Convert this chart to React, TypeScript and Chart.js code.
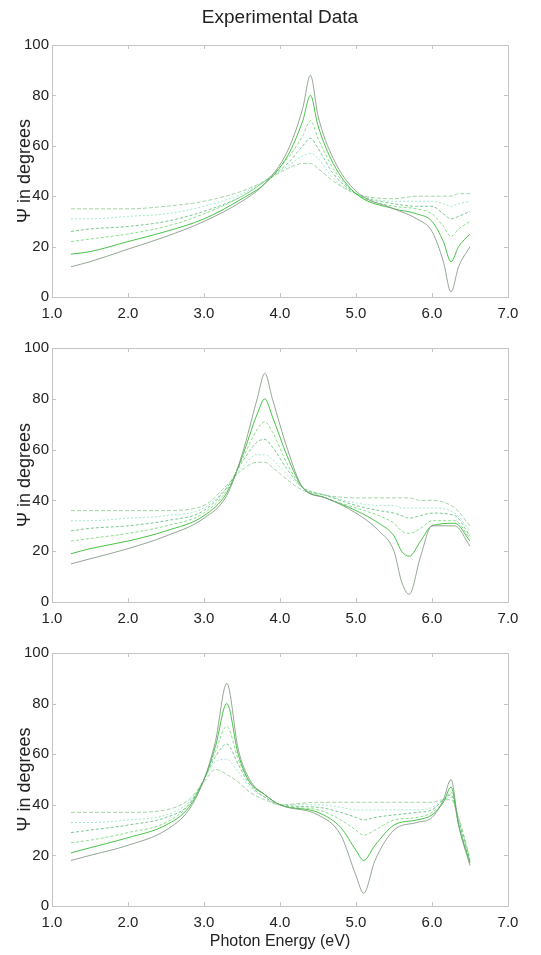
import React, { useEffect, useRef } from 'react';
import { Chart, registerables } from 'chart.js';
Chart.register(...registerables);

// ---------- tick values ----------
const xTickValues = [1, 2, 3, 4, 5, 6, 7];
const yTickValues = [0, 20, 40, 60, 80, 100];

// ---------- Panel 1 (resonance near 4.4 eV) ----------
const p1X = [1.25, 1.5, 2.0, 2.5, 3.0, 3.5, 3.8, 4.1, 4.3, 4.4, 4.5, 4.7, 5.0, 5.5, 5.8, 6.0, 6.15, 6.25, 6.35, 6.5];
const p1C0 = [12, 14, 19, 24, 30, 38, 45, 58, 75, 88, 72, 55, 42, 35, 31, 26, 14, 2, 12, 20];
const p1C1 = [17, 18, 22, 26, 31, 39, 45, 56, 70, 80, 68, 53, 41, 35, 33, 30, 22, 14, 20, 25];
const p1C2 = [22, 23, 25, 28, 33, 40, 46, 55, 64, 70, 63, 51, 41, 36, 35, 33, 28, 24, 27, 30];
const p1C3 = [26, 27, 28, 30, 34, 40, 46, 53, 60, 63, 59, 49, 41, 37, 36, 36, 33, 31, 32, 34];
const p1C4 = [31, 31, 32, 33, 36, 41, 46, 52, 56, 57, 55, 47, 41, 38, 38, 38, 37, 36, 37, 38];
const p1C5 = [35, 35, 35, 36, 38, 42, 46, 51, 53, 53, 51, 46, 41, 39, 40, 40, 40, 40, 41, 41];

// ---------- Panel 2 (resonance near 3.8 eV) ----------
const p2X = [1.25, 1.5, 2.0, 2.5, 3.0, 3.3, 3.5, 3.7, 3.8, 3.9, 4.1, 4.3, 4.6, 5.0, 5.3, 5.5, 5.6, 5.7, 5.85, 6.0, 6.3, 6.5];
const p2C0 = [15, 17, 21, 26, 33, 42, 58, 80, 90, 80, 60, 45, 41, 35, 28, 20, 8, 3, 18, 30, 30, 22];
const p2C1 = [19, 21, 24, 28, 34, 43, 57, 74, 80, 73, 57, 45, 41, 36, 31, 26, 20, 18, 24, 30, 31, 24];
const p2C2 = [24, 25, 27, 30, 35, 44, 56, 68, 71, 67, 54, 45, 41, 37, 34, 31, 28, 27, 29, 32, 32, 25];
const p2C3 = [28, 29, 30, 32, 36, 45, 55, 63, 64, 61, 52, 45, 42, 38, 36, 35, 34, 33, 34, 35, 34, 26];
const p2C4 = [32, 32, 33, 34, 37, 45, 53, 58, 58, 56, 50, 45, 42, 39, 38, 38, 37, 37, 37, 37, 35, 28];
const p2C5 = [36, 36, 36, 36, 38, 46, 52, 55, 55, 53, 48, 44, 42, 41, 41, 41, 41, 41, 40, 40, 37, 30];

// ---------- Panel 3 (resonance near 3.3 eV) ----------
const p3X = [1.25, 1.5, 2.0, 2.5, 2.8, 3.0, 3.15, 3.3, 3.45, 3.6, 3.8, 4.0, 4.5, 4.8, 5.0, 5.1, 5.25, 5.5, 5.8, 6.0, 6.15, 6.25, 6.35, 6.5];
const p3C0 = [18, 20, 24, 30, 38, 50, 65, 88, 62, 50, 44, 40, 36, 28, 12, 5, 18, 30, 33, 35, 42, 50, 32, 16];
const p3C1 = [21, 23, 27, 32, 39, 50, 63, 80, 60, 49, 44, 40, 37, 31, 22, 18, 24, 32, 34, 36, 41, 47, 32, 17];
const p3C2 = [25, 26, 29, 33, 40, 50, 61, 71, 58, 49, 44, 40, 38, 34, 30, 28, 30, 34, 35, 37, 41, 45, 33, 17];
const p3C3 = [29, 30, 32, 35, 40, 50, 59, 64, 56, 48, 43, 40, 39, 37, 35, 34, 35, 36, 37, 38, 42, 44, 34, 18];
const p3C4 = [33, 33, 34, 36, 41, 50, 57, 58, 53, 47, 43, 40, 40, 39, 38, 38, 38, 38, 38, 39, 42, 43, 34, 18];
const p3C5 = [37, 37, 37, 38, 42, 49, 54, 52, 49, 45, 42, 40, 41, 41, 41, 41, 41, 41, 41, 41, 42, 42, 35, 19];

const curveColors = [
  'rgba(130,150,130,0.85)',
  'rgba(40,185,40,0.85)',
  'rgba(110,215,110,0.8)',
  'rgba(70,175,100,0.7)',
  'rgba(120,225,180,0.7)',
  'rgba(150,205,150,0.85)',
];
const curveDashes = [[], [], [3, 2], [3, 2], [2, 2], [4, 2]];

const FONT = 'Liberation Sans, Arial, sans-serif';

const framePlugin = {
  id: 'frame',
  afterDraw(chart: any) {
    const { ctx, chartArea: a, scales } = chart;
    ctx.save();
    ctx.strokeStyle = '#c4c4c4';
    ctx.lineWidth = 1;
    ctx.strokeRect(Math.round(a.left) + 0.5, Math.round(a.top) + 0.5, Math.round(a.right - a.left), Math.round(a.bottom - a.top));
    ctx.beginPath();
    for (const v of xTickValues) {
      const px = Math.round(scales.x.getPixelForValue(v)) + 0.5;
      ctx.moveTo(px, a.bottom);
      ctx.lineTo(px, a.bottom - 4);
      ctx.moveTo(px, a.top);
      ctx.lineTo(px, a.top + 4);
    }
    for (const v of yTickValues) {
      const py = Math.round(scales.y.getPixelForValue(v)) + 0.5;
      ctx.moveTo(a.left, py);
      ctx.lineTo(a.left + 4, py);
      ctx.moveTo(a.right, py);
      ctx.lineTo(a.right - 4, py);
    }
    ctx.stroke();
    ctx.restore();
  },
};

function buildDatasets(xs: number[], curves: number[][]) {
  return curves.map((ys, i) => ({
    label: 'curve ' + (i + 1),
    data: xs.map((x, j) => ({ x, y: ys[j] })),
    borderColor: curveColors[i],
    borderWidth: 1,
    borderDash: curveDashes[i],
    pointRadius: 0,
    fill: false,
    cubicInterpolationMode: 'monotone' as const,
  }));
}

type PanelProps = {
  top: number;
  height: number;
  padTop: number;
  xHeight: number;
  xs: number[];
  curves: number[][];
  title?: string;
  xTitle?: string;
};

function Panel({ top, height, padTop, xHeight, xs, curves, title, xTitle }: PanelProps) {
  const ref = useRef<HTMLCanvasElement>(null);
  useEffect(() => {
    if (!ref.current) return;
    const chart = new Chart(ref.current, {
      type: 'line',
      data: { datasets: buildDatasets(xs, curves) as any },
      options: {
        responsive: false,
        animation: false,
        layout: { padding: { top: title ? 0 : padTop, right: 33, left: 0, bottom: 0 } },
        plugins: {
          legend: { display: false },
          tooltip: { enabled: false },
          title: title
            ? {
                display: true,
                fullSize: false,
                text: title,
                color: '#222',
                font: { family: FONT, size: 19, weight: 'normal' },
                padding: { top: 6, bottom: padTop - 6 - 22.8 },
              }
            : { display: false },
        },
        scales: {
          x: {
            type: 'linear',
            min: 1,
            max: 7,
            afterFit: (s: any) => { s.height = xHeight; },
            afterBuildTicks: (s: any) => { s.ticks = xTickValues.map((v) => ({ value: v })); },
            ticks: {
              color: '#222',
              font: { family: FONT, size: 15 },
              padding: 8,
              maxRotation: 0,
              callback: (v: any) => Number(v).toFixed(1),
            },
            grid: { display: false, drawTicks: false },
            border: { display: false },
            title: xTitle
              ? { display: true, text: xTitle, color: '#222', font: { family: FONT, size: 16 }, padding: { top: 4, bottom: 4 } }
              : { display: false },
          },
          y: {
            type: 'linear',
            min: 0,
            max: 100,
            afterFit: (s: any) => { s.width = 52; },
            afterBuildTicks: (s: any) => { s.ticks = yTickValues.map((v) => ({ value: v })); },
            ticks: { color: '#222', font: { family: FONT, size: 15 }, padding: 3 },
            grid: { display: false, drawTicks: false },
            border: { display: false },
            title: { display: true, text: 'Ψ in degrees', color: '#222', font: { family: FONT, size: 18 }, padding: { top: 14, bottom: 0 } },
          },
        },
      },
      plugins: [framePlugin],
    });
    return () => chart.destroy();
  }, []);
  return (
    <canvas
      ref={ref}
      width={541}
      height={height}
      style={{ position: 'absolute', left: 0, top, width: 541, height }}
    />
  );
}

export default function App() {
  return (
    <div style={{ position: 'absolute', left: 0, top: 0, width: 541, height: 955, background: '#fff' }}>
      <Panel top={0} height={330} padTop={45} xHeight={33} xs={p1X} curves={[p1C0, p1C1, p1C2, p1C3, p1C4, p1C5]} title="Experimental Data" />
      <Panel top={320} height={320} padTop={28} xHeight={38} xs={p2X} curves={[p2C0, p2C1, p2C2, p2C3, p2C4, p2C5]} />
      <Panel top={630} height={325} padTop={23} xHeight={49} xs={p3X} curves={[p3C0, p3C1, p3C2, p3C3, p3C4, p3C5]} xTitle="Photon Energy (eV)" />
    </div>
  );
}
